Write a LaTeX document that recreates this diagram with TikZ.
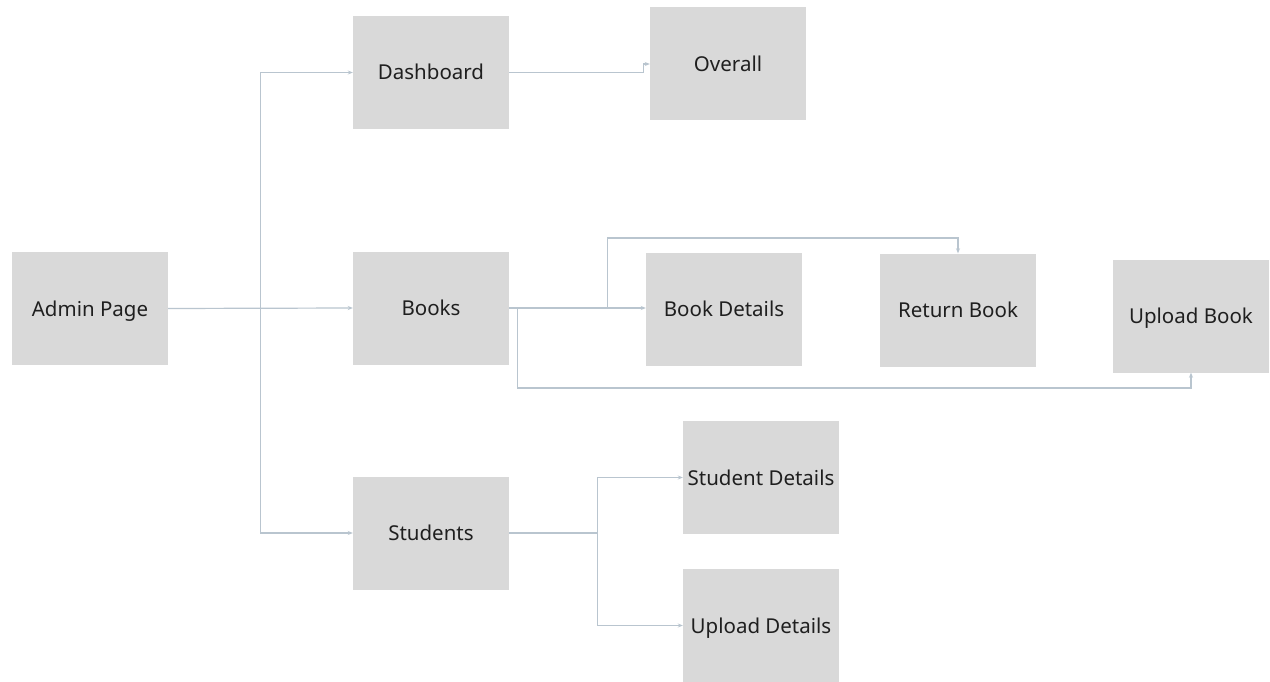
\documentclass[tikz,border=0pt]{standalone}
\usepackage{fontspec}
\setmainfont{Noto Sans}
\usetikzlibrary{arrows.meta}
\definecolor{boxgray}{HTML}{D9D9D9}
\definecolor{linecol}{HTML}{B9C5CF}
\begin{document}
\begin{tikzpicture}[x=1pt,y=-1pt,
  box/.style={fill=boxgray, minimum width=156pt, minimum height=113pt, inner sep=0pt,
    text height=17pt, text depth=2pt,
    font=\fontsize{20.5}{24}\selectfont, text=black!88},
  link/.style={draw=linecol, line width=1.2pt, -{Stealth[length=5pt,width=4pt]}}]
\path[use as bounding box, fill=white] (0,0) rectangle (1270,682);
\node[box] (admin) at (90,308.5) {Admin Page};
\node[box] (dash) at (431,72.5) {Dashboard};
\node[box] (over) at (728,64) {Overall};
\node[box] (books) at (431,308) {Books};
\node[box] (bd) at (724,309) {Book Details};
\node[box] (ret) at (958,310) {Return Book};
\node[box] (up) at (1191,316) {Upload Book};
\node[box] (stud) at (431,533) {Students};
\node[box] (sd) at (761,477.5) {Student Details};
\node[box] (ud) at (761,625.5) {Upload Details};

\draw[link] (admin.east) -- ++(92,0) |- (dash.west);
\draw[link] (admin.east) -- (books.west);
\draw[link] (admin.east) -- ++(92,0) |- (stud.west);
\draw[link] (dash.east) -- ++(134,0) |- (over.west);
\draw[link] (books.east) -- (books.east -| bd.west);
\draw[link] (books.east) -| ++(98,-70) -| (ret.north);
\draw[link] (books.east) -| ++(8,80) -| (up.south);
\draw[link] (stud.east) -- ++(88,0) |- (sd.west);
\draw[link] (stud.east) -- ++(88,0) |- (ud.west);
\end{tikzpicture}
\end{document}
